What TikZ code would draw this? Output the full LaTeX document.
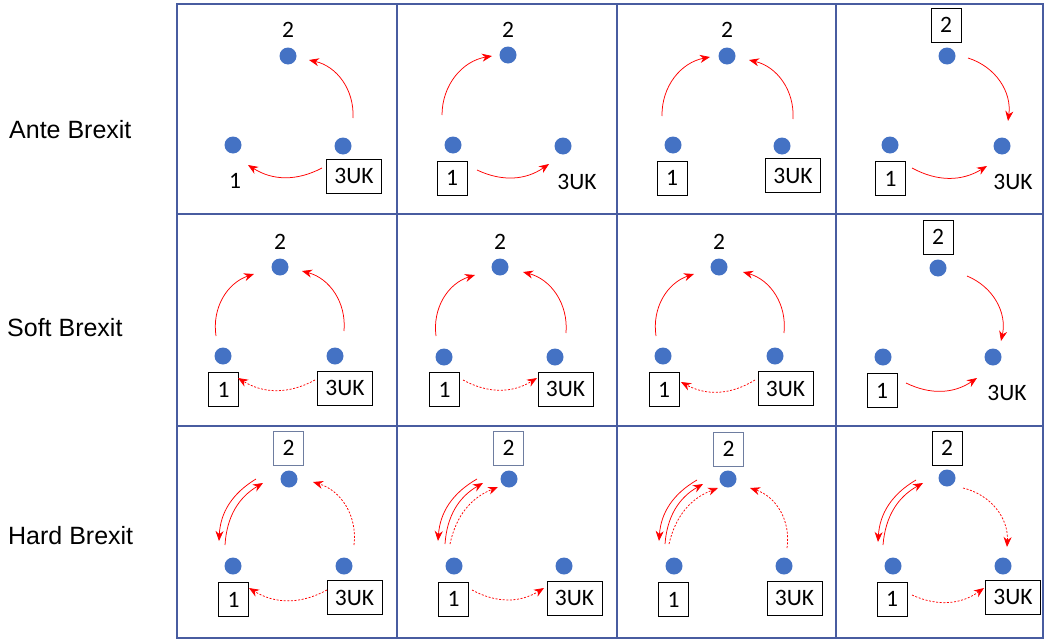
\documentclass[tikz,border=0pt]{standalone}
\usepackage{fontspec}
\setmainfont{Liberation Sans}
\newfontfamily\calfont{Carlito}
\usetikzlibrary{arrows.meta}
\definecolor{gridc}{RGB}{72,92,160}
\definecolor{dotc}{RGB}{68,114,196}
\definecolor{boxb}{RGB}{110,125,160}
\tikzset{
  bdot/.style={circle,fill=dotc,draw=none,minimum size=17pt,inner sep=0pt},
  plbl/.style={font=\calfont\fontsize{23.5}{25}\selectfont,inner sep=0pt},
  bxs/.style={plbl,draw=black,line width=1pt,minimum width=30pt,minimum height=34pt},
  bxw/.style={plbl,draw=black,line width=1pt,minimum width=55pt,minimum height=34pt},
  bxb/.style={bxs,draw=boxb},
  arr/.style={draw=red,line width=0.75pt,-{Stealth[length=10pt,width=8pt,inset=3.2pt]}},
  dsh/.style={arr,dash pattern=on 2pt off 1.6pt},
  rowl/.style={font=\fontsize{25}{28}\selectfont,anchor=west,inner sep=0pt},
}
\begin{document}
\begin{tikzpicture}[x=1pt,y=1pt]
\useasboundingbox (0,0) rectangle (1045,-640);
% grid
\draw[gridc,line width=1.6pt] (177,-4) rectangle (1043,-638);
\draw[gridc,line width=1.6pt] (397,-4) -- (397,-638) (617,-4) -- (617,-638) (836,-4) -- (836,-638)
  (177,-214) -- (1043,-214) (177,-426) -- (1043,-426);
% row labels
\node[rowl] (r1) at (9,-130) {Ante Brexit};
\node[rowl] (r2) at (7,-328) {Soft Brexit};
\node[rowl] (r3) at (8,-536) {Hard Brexit};

% ---------- Cell A ----------
\node[bdot] (A2) at (288,-56) {};
\node[bdot] (A1) at (233,-145) {};
\node[bdot] (A3) at (343,-146) {};
\node[plbl] (A2l) at (288,-30) {2};
\node[plbl] (A1l) at (235,-181) {1};
\node[bxw] (A3l) at (354,-176) {3UK};
\coordinate (A32s) at (353,-118); \coordinate (A32e) at (309,-60);
\coordinate (A31s) at (322,-168); \coordinate (A31e) at (248,-165);
\draw[arr] (A32s) to[bend right=40] (A32e);
\draw[arr] (A31s) to[bend left=30] (A31e);

% ---------- Cell B ----------
\node[bdot] (B2) at (508,-55) {};
\node[bdot] (B1) at (453,-145) {};
\node[bdot] (B3) at (563,-146) {};
\node[plbl] (B2l) at (508,-30) {2};
\node[bxs] (B1l) at (452,-178) {1};
\node[plbl] (B3l) at (577,-182) {3UK};
\coordinate (B12s) at (442,-115); \coordinate (B12e) at (492,-56);
\coordinate (B13s) at (477,-170); \coordinate (B13e) at (549,-164);
\draw[arr] (B12s) to[bend left=40] (B12e);
\draw[arr] (B13s) to[bend right=30] (B13e);

% ---------- Cell C ----------
\node[bdot] (C2) at (727,-56) {};
\node[bdot] (C1) at (673,-145) {};
\node[bdot] (C3) at (782,-146) {};
\node[plbl] (C2l) at (727,-30) {2};
\node[bxs] (C1l) at (672,-178) {1};
\node[bxw] (C3l) at (793,-175.5) {3UK};
\coordinate (C12s) at (662,-116); \coordinate (C12e) at (710,-57);
\coordinate (C32s) at (793,-119); \coordinate (C32e) at (749,-60);
\draw[arr] (C12s) to[bend left=40] (C12e);
\draw[arr] (C32s) to[bend right=40] (C32e);

% ---------- Cell D ----------
\node[bdot] (D2) at (947,-56) {};
\node[bdot] (D1) at (890,-145) {};
\node[bdot] (D3) at (1002,-146) {};
\node[bxs] (D2l) at (946,-25) {2};
\node[bxs] (D1l) at (890.5,-178.5) {1};
\node[plbl] (D3l) at (1013,-182) {3UK};
\coordinate (D23s) at (968,-58); \coordinate (D23e) at (1008,-121);
\coordinate (D13s) at (912,-168); \coordinate (D13e) at (987,-166);
\draw[arr] (D23s) to[bend left=40] (D23e);
\draw[arr] (D13s) to[bend right=30] (D13e);

% ---------- Cell E ----------
\node[bdot] (E2) at (280,-267) {};
\node[bdot] (E1) at (223,-356) {};
\node[bdot] (E3) at (335,-356) {};
\node[plbl] (E2l) at (280,-242) {2};
\node[bxs] (E1l) at (223.5,-389.5) {1};
\node[bxw] (E3l) at (345,-388) {3UK};
\coordinate (E12s) at (216,-336); \coordinate (E12e) at (254,-274);
\coordinate (E32s) at (344,-331); \coordinate (E32e) at (302,-271);
\coordinate (E31s) at (315,-380); \coordinate (E31e) at (238,-378);
\draw[arr] (E12s) to[bend left=40] (E12e);
\draw[arr] (E32s) to[bend right=40] (E32e);
\draw[dsh] (E31s) to[bend left=30] (E31e);

% ---------- Cell F ----------
\node[bdot] (F2) at (500,-267) {};
\node[bdot] (F1) at (444,-357) {};
\node[bdot] (F3) at (555,-357) {};
\node[plbl] (F2l) at (500,-242) {2};
\node[bxs] (F1l) at (444.5,-389.5) {1};
\node[bxw] (F3l) at (565.5,-389) {3UK};
\coordinate (F12s) at (436,-336); \coordinate (F12e) at (475,-275);
\coordinate (F32s) at (566,-333); \coordinate (F32e) at (523,-272);
\coordinate (F13s) at (463,-380); \coordinate (F13e) at (537,-378);
\draw[arr] (F12s) to[bend left=40] (F12e);
\draw[arr] (F32s) to[bend right=40] (F32e);
\draw[dsh] (F13s) to[bend right=30] (F13e);

% ---------- Cell G ----------
\node[bdot] (G2) at (719,-267) {};
\node[bdot] (G1) at (663,-356) {};
\node[bdot] (G3) at (775,-356) {};
\node[plbl] (G2l) at (719,-242) {2};
\node[bxs] (G1l) at (664,-389.5) {1};
\node[bxw] (G3l) at (785.5,-388.5) {3UK};
\coordinate (G12s) at (656,-336); \coordinate (G12e) at (694,-274);
\coordinate (G32s) at (784,-333); \coordinate (G32e) at (743,-272);
\coordinate (G31s) at (755,-380); \coordinate (G31e) at (681,-382);
\draw[arr] (G12s) to[bend left=40] (G12e);
\draw[arr] (G32s) to[bend right=40] (G32e);
\draw[dsh] (G31s) to[bend left=30] (G31e);

% ---------- Cell H ----------
\node[bdot] (H2) at (938,-268) {};
\node[bdot] (H1) at (883,-357) {};
\node[bdot] (H3) at (993,-357) {};
\node[bxs] (H2l) at (938,-237) {2};
\node[bxs] (H1l) at (882,-390.5) {1};
\node[plbl] (H3l) at (1007,-393) {3UK};
\coordinate (H23s) at (967,-276); \coordinate (H23e) at (1001,-341);
\coordinate (H13s) at (906,-383); \coordinate (H13e) at (977,-378);
\draw[arr] (H23s) to[bend left=40] (H23e);
\draw[arr] (H13s) to[bend right=30] (H13e);

% ---------- Cell I ----------
\node[bdot] (I2) at (289,-479) {};
\node[bdot] (I1) at (233,-566) {};
\node[bdot] (I3) at (344,-566) {};
\node[bxb] (I2l) at (288.5,-448) {2};
\node[bxs] (I1l) at (233.5,-599.5) {1};
\node[bxw] (I3l) at (354.5,-597.5) {3UK};
\coordinate (I21s) at (256,-479); \coordinate (I21e) at (219,-541);
\coordinate (I12s) at (225,-545); \coordinate (I12e) at (263,-483);
\coordinate (I32s) at (354,-545); \coordinate (I32e) at (313,-482);
\coordinate (I31s) at (327,-590); \coordinate (I31e) at (249,-588);
\draw[arr] (I21s) to[bend right=28] (I21e);
\draw[arr] (I12s) to[bend left=28] (I12e);
\draw[dsh] (I32s) to[bend right=40] (I32e);
\draw[dsh] (I31s) to[bend left=30] (I31e);

% ---------- Cell J ----------
\node[bdot] (J2) at (509,-479) {};
\node[bdot] (J1) at (454,-566) {};
\node[bdot] (J3) at (564,-566) {};
\node[bxb] (J2l) at (508.5,-448) {2};
\node[bxs] (J1l) at (453.5,-599) {1};
\node[bxw] (J3l) at (574.5,-598) {3UK};
\coordinate (J21s) at (477,-479); \coordinate (J21e) at (438,-541);
\coordinate (J12s) at (445,-544); \coordinate (J12e) at (483,-483);
\coordinate (J12ds) at (450,-544); \coordinate (J12de) at (498,-487);
\coordinate (J13s) at (472,-590); \coordinate (J13e) at (544,-588);
\draw[arr] (J21s) to[bend right=28] (J21e);
\draw[arr] (J12s) to[bend left=28] (J12e);
\draw[dsh] (J12ds) to[bend left=28] (J12de);
\draw[dsh] (J13s) to[bend right=30] (J13e);

% ---------- Cell K ----------
\node[bdot] (K2) at (728,-479) {};
\node[bdot] (K1) at (674,-566) {};
\node[bdot] (K3) at (784,-566) {};
\node[bxb] (K2l) at (728.5,-449) {2};
\node[bxs] (K1l) at (673.5,-599.5) {1};
\node[bxw] (K3l) at (794.5,-598) {3UK};
\coordinate (K21s) at (697,-480); \coordinate (K21e) at (659,-541);
\coordinate (K12s) at (665,-544); \coordinate (K12e) at (703,-484);
\coordinate (K12ds) at (669,-544); \coordinate (K12de) at (718,-488);
\coordinate (K32s) at (787,-548); \coordinate (K32e) at (750,-488);
\draw[arr] (K21s) to[bend right=28] (K21e);
\draw[arr] (K12s) to[bend left=28] (K12e);
\draw[dsh] (K12ds) to[bend left=28] (K12de);
\draw[dsh] (K32s) to[bend right=40] (K32e);

% ---------- Cell L ----------
\node[bdot] (L2) at (947,-478) {};
\node[bdot] (L1) at (893,-566) {};
\node[bdot] (L3) at (1003,-566) {};
\node[bxs] (L2l) at (947,-448) {2};
\node[bxs] (L1l) at (892,-599) {1};
\node[bxw] (L3l) at (1013,-597) {3UK};
\coordinate (L21s) at (916,-480); \coordinate (L21e) at (878,-542);
\coordinate (L12s) at (883,-545); \coordinate (L12e) at (923,-483);
\coordinate (L23s) at (963,-488); \coordinate (L23e) at (1007,-547);
\coordinate (L13s) at (912,-595); \coordinate (L13e) at (984,-588);
\draw[arr] (L21s) to[bend right=28] (L21e);
\draw[arr] (L12s) to[bend left=28] (L12e);
\draw[dsh] (L23s) to[bend left=40] (L23e);
\draw[dsh] (L13s) to[bend right=30] (L13e);
\end{tikzpicture}
\end{document}
